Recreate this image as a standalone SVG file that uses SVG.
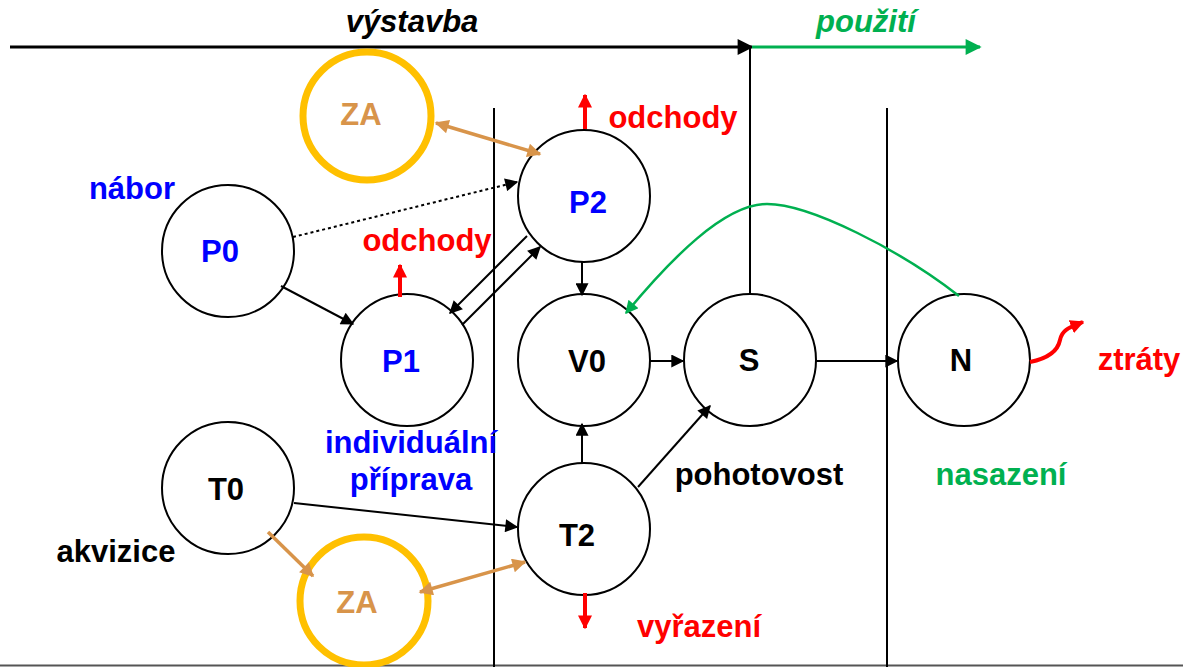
<svg xmlns="http://www.w3.org/2000/svg" width="1183" height="667" viewBox="0 0 1183 667">
<style>
text{font-family:"Liberation Sans",Arial,sans-serif;font-weight:bold;font-size:31px;text-anchor:middle}
.it{font-style:italic}
.node{fill:#fff;stroke:#000;stroke-width:2}
.za{fill:none;stroke:#FFC000;stroke-width:7}
.c{fill:none;stroke:#000;stroke-width:2}
.o{fill:none;stroke:#D8944A;stroke-width:3.5}
.r{fill:none;stroke:#FF0000;stroke-width:4}
.g{fill:none;stroke:#00B050;stroke-width:2.5}
.blue{fill:#0000FF}.red{fill:#FF0000}.green{fill:#00B050}.black{fill:#000}.orange{fill:#D8944A}
</style>
<defs>
<marker id="ab" viewBox="0 0 10 10" refX="9" refY="5" markerWidth="16" markerHeight="13" markerUnits="userSpaceOnUse" orient="auto-start-reverse"><path d="M0,0 L10,5 L0,10 z" fill="#000"/></marker>
<marker id="abig" viewBox="0 0 10 10" refX="9" refY="5" markerWidth="18" markerHeight="16" markerUnits="userSpaceOnUse" orient="auto"><path d="M0,0 L10,5 L0,10 z" fill="#000"/></marker>
<marker id="ag" viewBox="0 0 10 10" refX="9" refY="5" markerWidth="18" markerHeight="16" markerUnits="userSpaceOnUse" orient="auto"><path d="M0,0 L10,5 L0,10 z" fill="#00B050"/></marker>
<marker id="ag2" viewBox="0 0 10 10" refX="9" refY="5" markerWidth="15" markerHeight="13" markerUnits="userSpaceOnUse" orient="auto"><path d="M0,0 L10,5 L0,10 z" fill="#00B050"/></marker>
<marker id="ao" viewBox="0 0 10 10" refX="9" refY="5" markerWidth="17" markerHeight="14" markerUnits="userSpaceOnUse" orient="auto-start-reverse"><path d="M0,0 L10,5 L0,10 z" fill="#D8944A"/></marker>
<marker id="ar" viewBox="0 0 10 10" refX="9" refY="5" markerWidth="14" markerHeight="15" markerUnits="userSpaceOnUse" orient="auto"><path d="M0,0 L10,5 L0,10 z" fill="#FF0000"/></marker>
</defs>

<g id="frame">
<line x1="0" y1="665.5" x2="1183" y2="665.5" stroke="#555" stroke-width="2"/>
<line x1="494" y1="108" x2="494" y2="667" stroke="#000" stroke-width="2"/>
<line x1="887" y1="108" x2="887" y2="667" stroke="#000" stroke-width="2"/>
<line x1="750" y1="47" x2="750" y2="295" stroke="#000" stroke-width="2"/>
<line x1="10" y1="47" x2="752" y2="47" stroke="#000" stroke-width="3" marker-end="url(#abig)"/>
<line x1="752" y1="47" x2="980" y2="47" stroke="#00B050" stroke-width="3" marker-end="url(#ag)"/>
<text class="it black" x="412" y="32">výstavba</text>
<text class="it green" x="866" y="32">použití</text>
</g>

<g id="ZA1"><circle class="za" cx="367" cy="116" r="64"/><text class="orange" x="361" y="125">ZA</text></g>
<g id="ZA2"><circle class="za" cx="364" cy="601" r="64"/><text class="orange" x="357" y="613">ZA</text></g>
<g id="P0"><circle class="node" cx="228" cy="251" r="66"/><text class="blue" x="220" y="262">P0</text></g>
<g id="P1"><circle class="node" cx="407" cy="360" r="66"/><text class="blue" x="401" y="372">P1</text></g>
<g id="P2"><circle class="node" cx="584" cy="196" r="66"/><text class="blue" x="588" y="213">P2</text></g>
<g id="V0"><circle class="node" cx="584" cy="360" r="66"/><text class="black" x="587" y="372">V0</text></g>
<g id="S"><circle class="node" cx="750" cy="360" r="66"/><text class="black" x="749" y="371">S</text></g>
<g id="N"><circle class="node" cx="964" cy="360" r="66"/><text class="black" x="961" y="371">N</text></g>
<g id="T0"><circle class="node" cx="228" cy="488" r="66"/><text class="black" x="226" y="500">T0</text></g>
<g id="T2"><circle class="node" cx="584" cy="529" r="66"/><text class="black" x="577" y="546">T2</text></g>

<g id="connectors">
<line class="c" x1="281" y1="286" x2="353" y2="324" marker-end="url(#ab)"/>
<line class="c" x1="293" y1="237" x2="517" y2="182" stroke-dasharray="3,3" stroke-width="2.5" marker-end="url(#ab)"/>
<line class="c" x1="527" y1="236" x2="450" y2="313" marker-end="url(#ab)"/>
<line class="c" x1="462" y1="325" x2="540" y2="247" marker-end="url(#ab)"/>
<line class="c" x1="582" y1="262" x2="582" y2="295" marker-end="url(#ab)"/>
<line class="c" x1="650" y1="361" x2="683" y2="361" marker-end="url(#ab)"/>
<line class="c" x1="816" y1="361" x2="897" y2="361" marker-end="url(#ab)"/>
<line class="c" x1="582" y1="463" x2="582" y2="424" marker-end="url(#ab)"/>
<line class="c" x1="638" y1="487" x2="710" y2="406" marker-end="url(#ab)"/>
<line class="c" x1="294" y1="503" x2="517" y2="527" marker-end="url(#ab)"/>
<line class="o" x1="268" y1="532" x2="313" y2="576" marker-end="url(#ao)"/>
<line class="o" x1="420" y1="592" x2="525" y2="562" marker-start="url(#ao)" marker-end="url(#ao)"/>
<line class="o" x1="436" y1="123" x2="540" y2="154" marker-start="url(#ao)" marker-end="url(#ao)"/>
<path class="g" d="M959,296 C900,250 810,204 767,204 C724,204 670,260 626,313" marker-end="url(#ag2)"/>
<path class="r" d="M1030,362 C1050,358 1058,350 1060,340 C1062,330 1068,328 1083,322" stroke-width="3" marker-end="url(#ar)"/>
<line class="r" x1="400" y1="297" x2="400" y2="265" marker-end="url(#ar)"/>
<line class="r" x1="585" y1="129" x2="585" y2="95" marker-end="url(#ar)"/>
<line class="r" x1="585" y1="593" x2="585" y2="628" marker-end="url(#ar)"/>
</g>

<g id="labels">
<text class="blue" x="132" y="199">nábor</text>
<text class="red" x="427" y="251">odchody</text>
<text class="red" x="673" y="128">odchody</text>
<text class="blue" x="411" y="453">individuální</text>
<text class="blue" x="411" y="490">příprava</text>
<text class="black" x="116" y="562">akvizice</text>
<text class="black" x="759" y="485">pohotovost</text>
<text class="green" x="1001" y="485">nasazení</text>
<text class="red" x="699" y="637">vyřazení</text>
<text class="red" x="1139" y="370">ztráty</text>
</g>
</svg>
